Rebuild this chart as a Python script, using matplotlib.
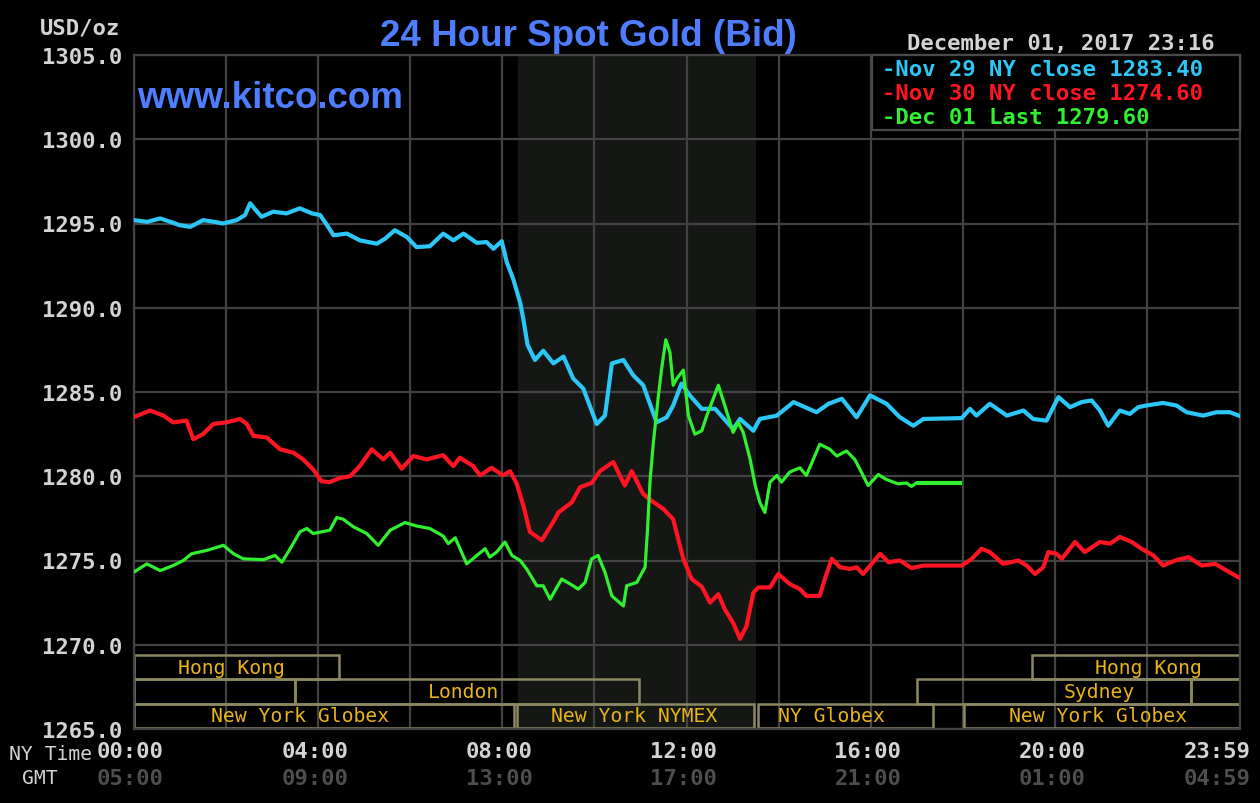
import matplotlib
matplotlib.use("Agg")
import matplotlib.pyplot as plt
import matplotlib.patches as mpatches
from matplotlib.transforms import blended_transform_factory, offset_copy

# ── Data (hours since 00:00 NY time, USD/oz) ─────────────────────────────────
NOV29 = [
    (0, 1295.2), (0.3, 1295.1), (0.58, 1295.3), (0.8, 1295.1), (1.0, 1294.9),
    (1.23, 1294.8), (1.51, 1295.2), (1.75, 1295.1), (1.94, 1295.0), (2.24, 1295.2),
    (2.42, 1295.5), (2.53, 1296.2), (2.65, 1295.8), (2.78, 1295.4), (3.03, 1295.7),
    (3.32, 1295.6), (3.61, 1295.9), (3.87, 1295.6), (4.05, 1295.5), (4.2, 1294.9),
    (4.34, 1294.3), (4.63, 1294.4), (4.91, 1294.0), (5.28, 1293.8), (5.46, 1294.1),
    (5.67, 1294.6), (5.93, 1294.2), (6.14, 1293.6), (6.43, 1293.65), (6.72, 1294.4),
    (6.94, 1294.0), (7.16, 1294.4), (7.45, 1293.85), (7.66, 1293.9), (7.81, 1293.5),
    (7.99, 1293.95), (8.1, 1292.7), (8.24, 1291.7), (8.39, 1290.3), (8.46, 1289.3),
    (8.55, 1287.8), (8.71, 1286.9), (8.89, 1287.45), (9.11, 1286.7), (9.33, 1287.1),
    (9.54, 1285.8), (9.76, 1285.2), (10.05, 1283.1), (10.23, 1283.6), (10.38, 1286.7),
    (10.63, 1286.9), (10.84, 1286.0), (11.06, 1285.4), (11.35, 1283.2), (11.57, 1283.5),
    (11.71, 1284.2), (11.89, 1285.5), (12.07, 1284.8), (12.33, 1284.0), (12.62, 1284.0),
    (13.01, 1282.8), (13.16, 1283.4), (13.45, 1282.7), (13.59, 1283.4), (13.96, 1283.6),
    (14.32, 1284.4), (14.82, 1283.8), (15.08, 1284.3), (15.37, 1284.6), (15.69, 1283.5),
    (15.98, 1284.8), (16.34, 1284.3), (16.63, 1283.5), (16.92, 1283.0), (17.14, 1283.4),
    (17.97, 1283.45), (18.15, 1284.0), (18.29, 1283.6), (18.58, 1284.3), (18.95, 1283.6),
    (19.31, 1283.9), (19.52, 1283.4), (19.81, 1283.3), (20.07, 1284.7), (20.32, 1284.1),
    (20.57, 1284.4), (20.79, 1284.5), (20.97, 1283.9), (21.15, 1283.0), (21.4, 1283.9),
    (21.62, 1283.7), (21.8, 1284.1), (21.98, 1284.2), (22.34, 1284.35), (22.63, 1284.2),
    (22.85, 1283.8), (23.21, 1283.6), (23.5, 1283.8), (23.79, 1283.8), (23.98, 1283.6),
]

NOV30 = [
    (0, 1283.5), (0.36, 1283.9), (0.65, 1283.6), (0.86, 1283.2), (1.15, 1283.3),
    (1.3, 1282.2), (1.51, 1282.5), (1.73, 1283.1), (2.02, 1283.2), (2.31, 1283.4),
    (2.46, 1283.1), (2.6, 1282.4), (2.89, 1282.3), (3.18, 1281.6), (3.47, 1281.4),
    (3.68, 1281.0), (3.9, 1280.4), (4.08, 1279.7), (4.26, 1279.65), (4.48, 1279.9),
    (4.7, 1280.0), (4.91, 1280.6), (5.17, 1281.6), (5.42, 1281.0), (5.57, 1281.4),
    (5.82, 1280.45), (6.07, 1281.2), (6.36, 1281.0), (6.72, 1281.25), (6.94, 1280.6),
    (7.08, 1281.1), (7.37, 1280.6), (7.52, 1280.05), (7.77, 1280.5), (8.02, 1280.05),
    (8.17, 1280.3), (8.31, 1279.6), (8.46, 1278.25), (8.6, 1276.7), (8.86, 1276.2),
    (9.11, 1277.3), (9.22, 1277.85), (9.51, 1278.45), (9.69, 1279.35), (9.94, 1279.6),
    (10.12, 1280.3), (10.41, 1280.85), (10.66, 1279.45), (10.81, 1280.3), (11.06, 1278.95),
    (11.21, 1278.6), (11.5, 1278.05), (11.71, 1277.45), (11.93, 1275.1), (12.11, 1273.9),
    (12.33, 1273.45), (12.51, 1272.5), (12.69, 1273.0), (12.83, 1272.1), (13.01, 1271.3),
    (13.16, 1270.35), (13.3, 1271.1), (13.45, 1273.1), (13.56, 1273.4), (13.81, 1273.4),
    (13.99, 1274.2), (14.24, 1273.6), (14.46, 1273.3), (14.6, 1272.9), (14.89, 1272.9),
    (15.0, 1273.9), (15.15, 1275.1), (15.33, 1274.6), (15.55, 1274.5), (15.69, 1274.6),
    (15.83, 1274.2), (16.2, 1275.4), (16.38, 1274.9), (16.63, 1275.0), (16.88, 1274.55),
    (17.14, 1274.7), (17.97, 1274.7), (18.19, 1275.1), (18.4, 1275.7), (18.58, 1275.5),
    (18.87, 1274.8), (19.2, 1275.0), (19.38, 1274.7), (19.56, 1274.2), (19.74, 1274.6),
    (19.85, 1275.5), (20.03, 1275.4), (20.14, 1275.1), (20.43, 1276.1), (20.64, 1275.5),
    (20.97, 1276.1), (21.19, 1276.0), (21.4, 1276.4), (21.66, 1276.1), (21.87, 1275.7),
    (22.13, 1275.3), (22.34, 1274.7), (22.6, 1275.0), (22.89, 1275.2), (23.18, 1274.7),
    (23.47, 1274.8), (23.72, 1274.4), (23.98, 1274.0),
]

DEC01 = [
    (0, 1274.3), (0.29, 1274.8), (0.58, 1274.4), (0.86, 1274.7), (1.08, 1275.0),
    (1.26, 1275.4), (1.59, 1275.6), (1.95, 1275.9), (2.17, 1275.4), (2.38, 1275.1),
    (2.82, 1275.05), (3.07, 1275.3), (3.22, 1274.9), (3.4, 1275.7), (3.61, 1276.7),
    (3.76, 1276.9), (3.9, 1276.6), (4.26, 1276.8), (4.41, 1277.55), (4.55, 1277.45),
    (4.77, 1277.0), (5.06, 1276.6), (5.31, 1275.9), (5.57, 1276.8), (5.89, 1277.25),
    (6.14, 1277.05), (6.43, 1276.9), (6.72, 1276.45), (6.83, 1276.0), (6.98, 1276.35),
    (7.23, 1274.8), (7.45, 1275.3), (7.63, 1275.7), (7.73, 1275.2), (7.88, 1275.5),
    (8.06, 1276.1), (8.21, 1275.3), (8.39, 1275.0), (8.53, 1274.5), (8.75, 1273.5),
    (8.89, 1273.5), (9.04, 1272.7), (9.29, 1273.9), (9.54, 1273.5), (9.65, 1273.3),
    (9.8, 1273.7), (9.94, 1275.1), (10.08, 1275.3), (10.23, 1274.3), (10.38, 1272.9),
    (10.63, 1272.3), (10.7, 1273.5), (10.92, 1273.7), (11.1, 1274.6), (11.15, 1276.7),
    (11.21, 1279.8), (11.28, 1282.0), (11.39, 1284.8), (11.46, 1286.4), (11.55, 1288.1),
    (11.64, 1287.35), (11.71, 1285.4), (11.79, 1285.8), (11.93, 1286.3), (12.04, 1283.6),
    (12.18, 1282.5), (12.33, 1282.7), (12.44, 1283.6), (12.69, 1285.4), (12.83, 1284.2),
    (13.01, 1282.6), (13.12, 1283.2), (13.23, 1282.6), (13.38, 1281.0), (13.49, 1279.45),
    (13.59, 1278.45), (13.7, 1277.85), (13.81, 1279.65), (13.96, 1280.05), (14.06, 1279.65),
    (14.24, 1280.25), (14.46, 1280.5), (14.6, 1280.05), (14.75, 1281.0), (14.89, 1281.9),
    (15.11, 1281.6), (15.26, 1281.2), (15.47, 1281.5), (15.65, 1281.0), (15.83, 1280.05),
    (15.94, 1279.45), (16.16, 1280.1), (16.34, 1279.8), (16.59, 1279.55), (16.77, 1279.6),
    (16.88, 1279.4), (16.99, 1279.6),
]
DEC01_FLAT = [(16.99, 1279.6), (17.97, 1279.6)]

NOV29_CLOSE = 1283.40
NOV30_CLOSE = 1274.60
DEC01_LAST = 1279.60

Y_TICKS = [1265, 1270, 1275, 1280, 1285, 1290, 1295, 1300, 1305]
X_GRID = list(range(0, 25, 2))
X_TICK_HOURS = [0, 4, 8, 12, 16, 20, 24]
NY_LABELS = ["00:00", "04:00", "08:00", "12:00", "16:00", "20:00", "23:59"]
GMT_LABELS = ["05:00", "09:00", "13:00", "17:00", "21:00", "01:00", "04:59"]

NYMEX_SPAN = (8.333, 13.5)

# (label, start hour, end hour, row, label centre hour); row 0 = top
SESSIONS = [
    ("Hong Kong", 0, 4.46, 0, 2.13),
    ("Hong Kong", 19.5, 24, 0, 22.03),
    ("", 0, 3.5, 1, None),
    ("London", 3.5, 10.96, 1, 7.15),
    ("Sydney", 17.0, 22.95, 1, 20.95),
    ("", 22.95, 24, 1, None),
    ("New York Globex", 0, 8.26, 2, 3.61),
    ("New York NYMEX", 8.33, 13.47, 2, 10.86),
    ("NY Globex", 13.55, 17.35, 2, 15.15),
    ("New York Globex", 18.02, 24, 2, 20.93),
]

# ── Style ─────────────────────────────────────────────────────────────────────
BG = "#000000"
GRID = "#424242"
SHADE = "#141714"
BOX_EDGE = "#8c8962"
BOX_TEXT = "#e8b418"
TICK = "#d4d4d4"
GMT_COL = "#4e4e4e"
BLUE = "#4f7dff"
CYAN = "#2cc6f7"
RED = "#ff1424"
GREEN = "#30f030"
MONO = "DejaVu Sans Mono"

W, H = 1260, 804
fig = plt.figure(figsize=(12.6, 8.04), dpi=100)
fig.patch.set_facecolor(BG)


def fx(x):
    return x / W


def fy(y):
    return 1 - y / H


ax = fig.add_axes([fx(133.5), fy(730), (1239.6 - 133.5) / W, (730 - 56) / H])
ax.set_facecolor(BG)
ax.set_xlim(0, 24)
ax.set_ylim(1265, 1305)

ax.set_xticks(X_GRID)
ax.set_yticks(Y_TICKS)
ax.set_yticklabels([f"{v:.1f}" for v in Y_TICKS], fontfamily=MONO,
                   fontweight="bold", fontsize=16, color=TICK)
ax.tick_params(length=0, labelbottom=False)
ax.tick_params(axis="y", pad=8)
ax.set_axisbelow(True)
ax.grid(True, color=GRID, linewidth=1.6)
for spine in ax.spines.values():
    spine.set_color(GRID)
    spine.set_linewidth(1.6)

# NYMEX shading
ax.axvspan(*NYMEX_SPAN, color=SHADE, zorder=0.2, linewidth=0)

# ── Session boxes ─────────────────────────────────────────────────────────────
ROW_H = 1.45
ROW_TOP = 1269.4
for label, start, end, row, lab_h in SESSIONS:
    top = ROW_TOP - row * ROW_H
    bottom = top - ROW_H
    ax.add_patch(mpatches.Rectangle((start, bottom), end - start, ROW_H,
                                    fill=False, edgecolor=BOX_EDGE,
                                    linewidth=1.8, zorder=2))
    if label:
        ax.text(lab_h, bottom + ROW_H / 2, label, ha="center", va="center",
                color=BOX_TEXT, fontsize=14.2, fontfamily=MONO, zorder=2)

# ── Price lines ───────────────────────────────────────────────────────────────
for series, col, lw in [(NOV29, CYAN, 3.0), (NOV30, RED, 3.0), (DEC01, GREEN, 2.3)]:
    hrs, vals = zip(*series)
    ax.plot(hrs, vals, color=col, linewidth=lw, zorder=3)
fh, fv = zip(*DEC01_FLAT)
ax.plot(fh, fv, color=GREEN, linewidth=3.0, zorder=3, solid_capstyle="butt")

# ── Legend box ────────────────────────────────────────────────────────────────
ax.add_patch(mpatches.Rectangle((16.02, 1300.55), 24 - 16.02, 1305 - 1300.55,
                                facecolor=BG, edgecolor="#4a4a4a",
                                linewidth=1.6, zorder=4, clip_on=False))
legend_rows = [
    (f"-Nov 29 NY close {NOV29_CLOSE:.2f}", CYAN, 70),
    (f"-Nov 30 NY close {NOV30_CLOSE:.2f}", RED, 94),
    (f"-Dec 01 Last {DEC01_LAST:.2f}", GREEN, 118),
]
for txt, col, ypx in legend_rows:
    fig.text(fx(882), fy(ypx), txt, ha="left", va="center", color=col,
             fontsize=16, fontfamily=MONO, fontweight="bold", zorder=5)

# ── Header texts ──────────────────────────────────────────────────────────────
fig.text(fx(588), fy(36), "24 Hour Spot Gold (Bid)", ha="center", va="center",
         color=BLUE, fontsize=26.5, fontfamily="Liberation Sans", fontweight="bold")
fig.text(fx(137), fy(99), "www.kitco.com", ha="left", va="center",
         color=BLUE, fontsize=26.5, fontfamily="Liberation Sans", fontweight="bold",
         zorder=5)
fig.text(fx(1215), fy(44), "December 01, 2017 23:16", ha="right", va="center",
         color=TICK, fontsize=16, fontfamily=MONO, fontweight="bold")
fig.text(fx(40), fy(28), "USD/oz", ha="left", va="center",
         color=TICK, fontsize=16, fontfamily=MONO, fontweight="bold")

# ── Time axis labels ──────────────────────────────────────────────────────────
trans = offset_copy(blended_transform_factory(ax.transData, fig.transFigure),
                    fig=fig, x=-3, y=0, units="dots")
for i, (h, ny, gmt) in enumerate(zip(X_TICK_HOURS, NY_LABELS, GMT_LABELS)):
    ha = "right" if i == len(X_TICK_HOURS) - 1 else "center"
    tr = trans
    if ha == "right":
        tr = offset_copy(blended_transform_factory(ax.transData, fig.transFigure),
                         fig=fig, x=11, y=0, units="dots")
    ax.text(h, fy(752), ny, transform=tr, ha=ha, va="center", color=TICK,
            fontsize=16, fontfamily=MONO, fontweight="bold", clip_on=False)
    ax.text(h, fy(779), gmt, transform=tr, ha=ha, va="center", color=GMT_COL,
            fontsize=16, fontfamily=MONO, fontweight="bold", clip_on=False)

fig.text(fx(92), fy(755), "NY Time", ha="right", va="center", color=TICK,
         fontsize=14.2, fontfamily=MONO)
fig.text(fx(40), fy(779), "GMT", ha="center", va="center", color=TICK,
         fontsize=14.2, fontfamily=MONO)

fig.savefig("out.png", dpi=100, facecolor=BG)
